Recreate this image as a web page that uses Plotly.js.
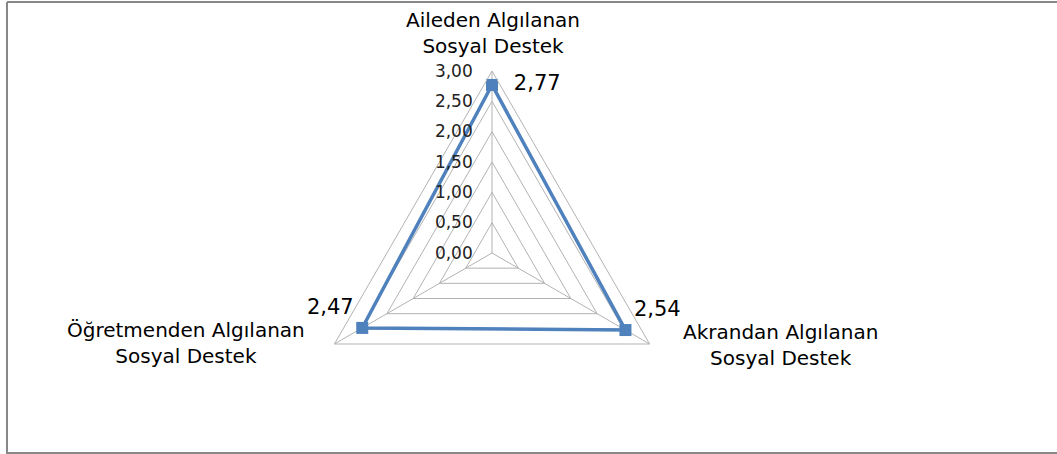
<!DOCTYPE html>
<html>
<head>
<meta charset="utf-8">
<script src="https://cdn.plot.ly/plotly-3.0.1.min.js"></script>
<style>html,body{margin:0;padding:0;background:#fff;}#chart{width:1057px;height:454px;}</style>
</head>
<body>
<div id="chart"></div>
<script>
const categories = ["Aileden Algılanan<br>Sosyal Destek", "Akrandan Algılanan<br>Sosyal Destek", "Öğretmenden Algılanan<br>Sosyal Destek"];
const values = [2.77, 2.54, 2.47];
const valueLabels = ["\u00a0\u00a02,77", "2,54", "2,47"];
const tickVals = [0, 0.5, 1, 1.5, 2, 2.5, 3];
const tickLabels = ["0,00", "0,50", "1,00", "1,50", "2,00", "2,50", "3,00"];

const W = 1057, H = 454;
const cx = 492, cy = 253, R = 182;
const FONT = 'DejaVu Sans, sans-serif';

const trace = {
  type: 'scatterpolar',
  r: values.concat([values[0]]),
  theta: categories.concat([categories[0]]),
  mode: 'lines+markers+text',
  text: valueLabels.concat([""]),
  textposition: ['middle right', 'top right', 'top left', 'middle right'],
  textfont: {family: FONT, size: 21, color: '#000'},
  line: {color: '#4F81BD', width: 3.5},
  marker: {symbol: 'square', size: 12, color: '#4F81BD'},
  cliponaxis: false,
  hoverinfo: 'skip'
};

// category labels placed as text next to each vertex
const labelPos = [
  {x: 493, y: 33},
  {x: 780, y: 345},
  {x: 186, y: 343}
];
const annotations = categories.map((c, i) => ({
  xref: 'paper', yref: 'paper',
  x: labelPos[i].x / W, y: 1 - labelPos[i].y / H,
  text: c, showarrow: false, xanchor: 'center', yanchor: 'middle', align: 'center',
  font: {family: FONT, size: 20, color: '#000'}
}));

const layout = {
  width: W, height: H,
  margin: {l: 0, r: 0, t: 0, b: 0},
  paper_bgcolor: '#fff',
  showlegend: false,
  font: {family: FONT, color: '#000'},
  annotations: annotations,
  polar: {
    domain: {x: [(cx - R) / W, (cx + R) / W], y: [(H - cy - R) / H, (H - cy + R) / H]},
    gridshape: 'linear',
    bgcolor: 'rgba(0,0,0,0)',
    radialaxis: {
      range: [0, 3], tickvals: tickVals, ticktext: tickLabels.map(t => t + '\u00a0\u00a0\u00a0'),
      angle: 90, tickangle: 90, side: 'counterclockwise',
      showline: false, gridcolor: '#b3b3b3', gridwidth: 1, ticks: '',
      tickfont: {family: FONT, size: 17, color: '#222'}
    },
    angularaxis: {
      direction: 'clockwise', rotation: 90, categoryorder: 'array', categoryarray: categories,
      showline: true, linecolor: '#b3b3b3', linewidth: 1, gridcolor: '#b3b3b3', ticks: '',
      showticklabels: false
    }
  },
  shapes: [
    {type: 'line', xref: 'paper', yref: 'paper', x0: 7 / W, x1: 7 / W, y0: 0, y1: 1 - 2 / H, line: {color: '#888', width: 2}},
    {type: 'line', xref: 'paper', yref: 'paper', x0: 7 / W, x1: 1, y0: 1 - 2 / H, y1: 1 - 2 / H, line: {color: '#888', width: 2}},
    {type: 'line', xref: 'paper', yref: 'paper', x0: 7 / W, x1: 1, y0: 1 / H, y1: 1 / H, line: {color: '#888', width: 2}}
  ]
};

Plotly.newPlot('chart', [trace], layout, {displayModeBar: false, staticPlot: true});
</script>
</body>
</html>
